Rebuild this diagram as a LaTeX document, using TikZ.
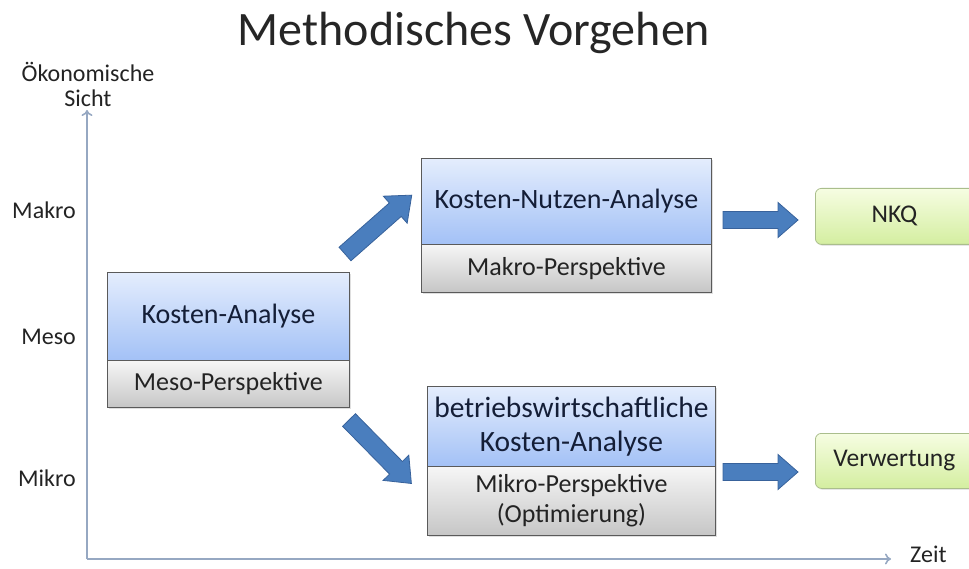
\documentclass[tikz,border=0pt]{standalone}
\usepackage{fontspec}
\setmainfont{Carlito}
\usetikzlibrary{shadows,arrows.meta}
\definecolor{boxblueT}{RGB}{228,237,253}
\definecolor{boxblueB}{RGB}{163,193,246}
\definecolor{boxgreyT}{RGB}{246,246,246}
\definecolor{boxgreyB}{RGB}{198,198,198}
\definecolor{boxgreenT}{RGB}{246,253,226}
\definecolor{boxgreenB}{RGB}{212,238,160}
\definecolor{boxborder}{RGB}{90,90,90}
\definecolor{greenborder}{RGB}{170,190,140}
\definecolor{navytext}{RGB}{20,30,55}
\definecolor{greytext}{RGB}{35,35,35}
\definecolor{axiscol}{RGB}{150,168,194}
\definecolor{arrowfill}{RGB}{74,126,190}
\definecolor{arrowdraw}{RGB}{56,98,155}
\tikzset{
  boxtop/.style={draw=boxborder, line width=0.8pt, top color=boxblueT, bottom color=boxblueB,
    anchor=north west, inner sep=0pt, align=center, text=navytext,
    font=\fontsize{28}{32}\selectfont, drop shadow={shadow xshift=1.5pt, shadow yshift=-1.5pt, opacity=0.25}},
  boxbot/.style={draw=boxborder, line width=0.8pt, top color=boxgreyT, bottom color=boxgreyB,
    anchor=north west, inner sep=0pt, align=center, text=greytext,
    font=\fontsize{26}{30}\selectfont, drop shadow={shadow xshift=1.5pt, shadow yshift=-1.5pt, opacity=0.25}},
  resbox/.style={draw=greenborder, line width=0.8pt, top color=boxgreenT, bottom color=boxgreenB,
    rounded corners=6pt, anchor=north west, inner sep=0pt, text=greytext,
    font=\fontsize{25.5}{30}\selectfont, drop shadow={shadow xshift=1.5pt, shadow yshift=-1.5pt, opacity=0.2}},
  axlabel/.style={text=greytext, font=\fontsize{24}{28}\selectfont, inner sep=0pt},
  axisline/.style={draw=axiscol, line width=1.6pt, -{To[length=6pt,width=11pt]}},
  blockarr/.style={fill=arrowfill, draw=arrowdraw, line width=0.8pt, line join=miter},
}
\begin{document}
\begin{tikzpicture}[x=1pt,y=-1pt]
\useasboundingbox (0,0) rectangle (969,569);
\begin{scope}
\clip (0,0) rectangle (969,569);

% title
\node[text=black!85, font=\fontsize{48}{54}\selectfont, inner sep=0pt] (title) at (474,33) {Methodisches Vorgehen};

% axes
\coordinate (origin) at (87,559);
\coordinate (ytop) at (87,110);
\coordinate (xend) at (891,559);
\draw[axisline] (origin) -- (ytop);
\draw[axisline] (origin) -- (xend);
\node[axlabel, align=center, font=\fontsize{24}{25}\selectfont] (ysicht) at (88,84) {Ökonomische\\Sicht};
\node[axlabel, anchor=west] (zeit) at (910,554) {Zeit};
\node[axlabel, anchor=east] (makro) at (76,210) {Makro};
\node[axlabel, anchor=east] (meso) at (76,337) {Meso};
\node[axlabel, anchor=east] (mikro) at (76,478) {Mikro};

% Kosten-Analyse (Meso)
\node[boxtop, minimum width=242pt, minimum height=88pt] (ka) at (107,272) {Kosten-Analyse};
\node[boxbot, minimum width=242pt, minimum height=47pt] (kap) at (107,360) {Meso-Perspektive};

% Kosten-Nutzen-Analyse (Makro)
\node[boxtop, minimum width=290pt, minimum height=86pt] (kna) at (421,158) {Kosten-Nutzen-Analyse};
\node[boxbot, minimum width=290pt, minimum height=48pt] (knap) at (421,244) {Makro-Perspektive};

% betriebswirtschaftliche Kosten-Analyse (Mikro)
\node[boxtop, minimum width=288pt, minimum height=80pt, font=\fontsize{29.5}{34}\selectfont] (bka) at (427,386) {betriebswirtschaftliche\\Kosten-Analyse};
\node[boxbot, minimum width=288pt, minimum height=69pt, font=\fontsize{26}{30}\selectfont] (bkap) at (427,466) {Mikro-Perspektive\\(Optimierung)};

% results
\node[resbox, minimum width=170pt, minimum height=56pt, text width=150pt, align=center] (nkq) at (815,188) {\hspace*{-12pt}NKQ};
\node[resbox, minimum width=170pt, minimum height=55pt, text width=150pt, align=center] (verw) at (815,433) {\hspace*{-12pt}Verwertung};

% block arrows
\coordinate (a1) at (345,254);
\coordinate (a2) at (349,420);
\coordinate (a3) at (723,220);
\coordinate (a4) at (723,472);
\begin{scope}[shift={(a1)}, rotate=41.4]
  \filldraw[blockarr] (0,-9) -- (67,-9) -- (67,-18) -- (89,0) -- (67,18) -- (67,9) -- (0,9) -- cycle;
\end{scope}
\begin{scope}[shift={(a2)}, rotate=-45.5]
  \filldraw[blockarr] (0,-9) -- (67,-9) -- (67,-18) -- (89,0) -- (67,18) -- (67,9) -- (0,9) -- cycle;
\end{scope}
\begin{scope}[shift={(a3)}]
  \filldraw[blockarr] (0,-8.5) -- (55,-8.5) -- (55,-17.5) -- (75,0) -- (55,17.5) -- (55,8.5) -- (0,8.5) -- cycle;
\end{scope}
\begin{scope}[shift={(a4)}]
  \filldraw[blockarr] (0,-8.5) -- (55,-8.5) -- (55,-17.5) -- (75,0) -- (55,17.5) -- (55,8.5) -- (0,8.5) -- cycle;
\end{scope}
\end{scope}
\end{tikzpicture}
\end{document}
